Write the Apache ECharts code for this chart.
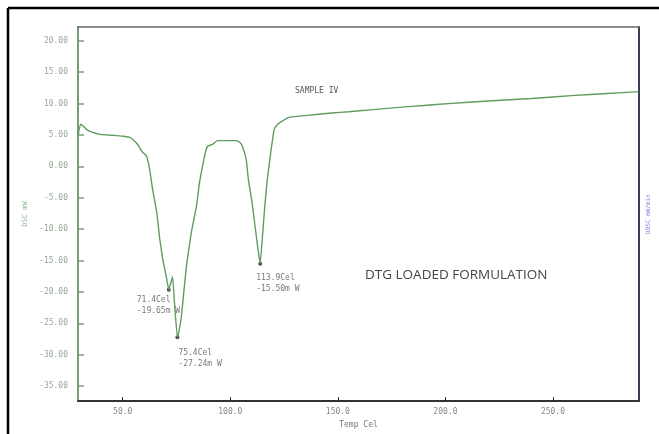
<!DOCTYPE html>
<html>
<head>
<meta charset="utf-8">
<script src="https://cdn.jsdelivr.net/npm/echarts@6/dist/echarts.min.js"></script>
<style>html,body{margin:0;padding:0;background:#fff}#c{width:659px;height:434px}</style>
</head>
<body>
<div id="c"></div>
<script>
// Temperature (Cel) and DSC signal (mW)
var temps = [29.3, 29.8, 30.6, 33.4, 36, 39.4, 43, 47.2, 50.5, 53.3, 55.6, 57.5, 58.8, 61.1, 62.5, 63.9, 65.8, 67.2, 68.6, 70.4, 71.4, 72.4, 73.2, 74.2, 75.4, 76.3, 77.3, 79.6, 81.9, 84.3, 85.7, 88, 89.4, 91.7, 94, 98, 102.8, 104.5, 105.6, 107.4, 108.4, 110, 111.5, 113, 113.9, 115, 116, 117.2, 119, 120.4, 122, 123.6, 127.3, 132, 139.8, 147, 155.1, 165, 178.3, 190, 201.4, 220, 240, 260, 275, 289.8];
var dsc = [5.0, 6.0, 6.7, 5.8, 5.4, 5.1, 5.0, 4.9, 4.8, 4.6, 4.0, 3.2, 2.4, 1.6, -0.5, -3.7, -7.3, -11.6, -14.8, -17.9, -19.65, -18.5, -17.6, -22.5, -27.24, -26, -23.8, -15.9, -10.5, -6.3, -2.5, 1.6, 3.2, 3.5, 4.1, 4.1, 4.1, 3.8, 3.2, 1.1, -2.1, -5.5, -9.5, -13.5, -15.5, -11, -6.5, -2.1, 2.7, 5.9, 6.7, 7.1, 7.8, 8.0, 8.25, 8.5, 8.7, 9.0, 9.4, 9.7, 10.0, 10.4, 10.8, 11.3, 11.6, 11.9];
// Peak annotations
var peakTemps = [71.4, 75.4, 113.9];
var peakValues = [-19.65, -27.24, -15.50];
var peakLabels = ["71.4Cel\n-19.65m W", "75.4Cel\n-27.24m W", "113.9Cel\n-15.50m W"];
// Tick labels
var xTicks = [50, 100, 150, 200, 250];
var yTicks = [-35, -30, -25, -20, -15, -10, -5, 0, 5, 10, 15, 20];

var labelOffsets = [[-30, 7], [3, 12], [-2, 11]];

var lineData = temps.map(function (t, i) { return [t, dsc[i]]; });
var peakData = peakTemps.map(function (t, i) {
  return {
    value: [t, peakValues[i]],
    label: { position: labelOffsets[i], formatter: peakLabels[i] }
  };
});

var mono = 'DejaVu Sans Mono';
var chart = echarts.init(document.getElementById('c'));
chart.setOption({
  animation: false,
  backgroundColor: '#fff',
  grid: { left: 78, top: 27, right: 18, bottom: 31, containLabel: false },
  xAxis: [{
    type: 'value', min: 29.2, max: 290, position: 'bottom',
    name: 'Temp Cel', nameLocation: 'middle', nameGap: 18,
    nameTextStyle: { fontFamily: mono, fontSize: 8, color: '#777' },
    axisLine: { show: true, onZero: false, lineStyle: { color: '#333', width: 2 } },
    axisTick: { show: true, inside: true, length: 4, customValues: xTicks, lineStyle: { color: '#333' } },
    axisLabel: { customValues: xTicks, margin: 7, fontFamily: mono, fontSize: 8, color: '#888',
      formatter: function (v) { return v.toFixed(1); } },
    splitLine: { show: false }
  }, {
    type: 'value', min: 29.2, max: 290, position: 'top',
    axisLine: { show: true, onZero: false, lineStyle: { color: '#666', width: 1.5 } },
    axisTick: { show: false }, axisLabel: { show: false }, splitLine: { show: false }
  }],
  yAxis: [{
    type: 'value', min: -37.4, max: 22.2, position: 'left',
    name: 'DSC mW', nameLocation: 'middle', nameGap: 43,
    nameTextStyle: { fontFamily: mono, fontSize: 7, color: '#9ab89a' },
    axisLine: { show: true, onZero: false, lineStyle: { color: '#7a9c7a', width: 2 } },
    axisTick: { show: true, inside: true, length: 6, customValues: yTicks, lineStyle: { color: '#7a9c7a', width: 1.5 } },
    axisLabel: { customValues: yTicks, margin: 10, fontFamily: mono, fontSize: 8, color: '#98a898',
      formatter: function (v) { return v.toFixed(2); } },
    splitLine: { show: false }
  }, {
    type: 'value', min: -37.4, max: 22.2, position: 'right',
    name: 'DDSC mW/min', nameLocation: 'middle', nameGap: 6, nameRotate: 90,
    nameTextStyle: { fontFamily: mono, fontSize: 6, color: '#8080d8' },
    axisLine: { show: true, onZero: false, lineStyle: { color: '#3c3c55', width: 2 } },
    axisTick: { show: false }, axisLabel: { show: false }, splitLine: { show: false }
  }],
  series: [{
    type: 'line', data: lineData, xAxisIndex: 0, yAxisIndex: 0,
    showSymbol: false, smooth: 0.1,
    lineStyle: { color: '#5f9c5f', width: 1.4 }
  }, {
    type: 'scatter', data: peakData, xAxisIndex: 0, yAxisIndex: 0,
    symbol: 'circle', symbolSize: 4, itemStyle: { color: '#222' },
    label: { show: true, fontFamily: mono, fontSize: 8, lineHeight: 11, color: '#555', align: 'left', verticalAlign: 'top' }
  }],
  graphic: [
    { type: 'line', shape: { x1: 8, y1: 8, x2: 659, y2: 8 }, style: { stroke: '#000', lineWidth: 2.5 } },
    { type: 'line', shape: { x1: 8, y1: 8, x2: 8, y2: 434 }, style: { stroke: '#000', lineWidth: 2.5 } },
    { type: 'text', left: 295, top: 87, style: { text: 'SAMPLE IV', font: '8px "DejaVu Sans Mono"', fill: '#555' } },
    { type: 'text', left: 365, top: 268, style: { text: 'DTG LOADED FORMULATION', font: '13.5px "Open Sans"', fill: '#444' } }
  ]
});
</script>
</body>
</html>
